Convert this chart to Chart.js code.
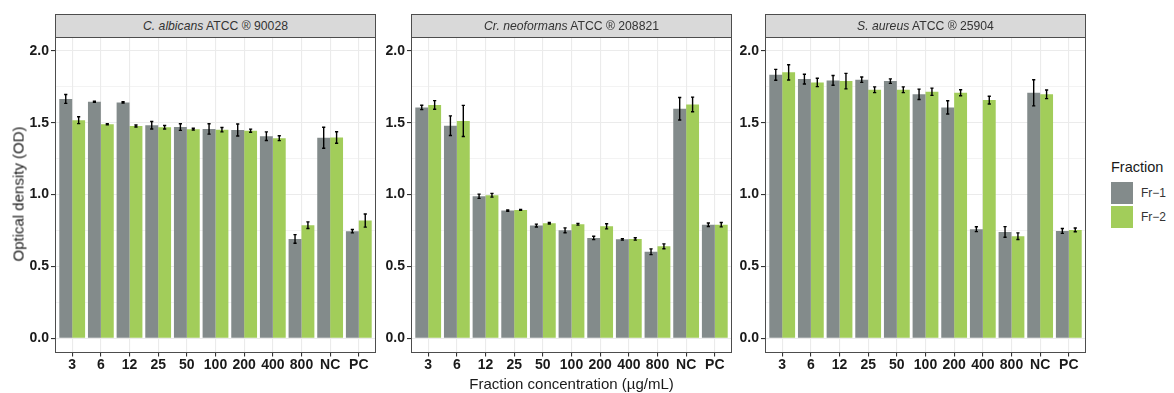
<!DOCTYPE html>
<html>
<head>
<meta charset="utf-8">
<script src="https://cdn.jsdelivr.net/npm/chart.js@4"></script>
<style>
  html, body { margin:0; padding:0; background:#fff; }
  body { width:1174px; height:393px; position:relative; overflow:hidden; font-family:"Liberation Sans", Arial, sans-serif; }
  .panel { position:absolute; top:17px; width:373px; height:376px; }
  .panel canvas { display:block; }
  .strip { position:absolute; top:14px; height:24px; width:321px; box-sizing:border-box; background:#D9D9D9; border:1px solid #4d4d4d;
           font-size:12.2px; color:#333; text-align:center; line-height:22px; white-space:nowrap; }
  .ytitle { position:absolute; left:18px; top:194px; transform:translate(-50%,-50%) rotate(-90deg); font-size:15px; color:#1a1a1a; white-space:nowrap; }
  .xtitle { position:absolute; left:571.5px; top:383px; transform:translate(-50%,-50%); font-size:15px; color:#1a1a1a; white-space:nowrap; }
  .ltitle { position:absolute; left:1111px; top:158px; font-size:14.5px; line-height:18px; color:#1a1a1a; }
  .lkey { position:absolute; left:1111px; width:22px; height:22px; }
  .llab { position:absolute; left:1141px; font-size:12px; line-height:14px; color:#333; }
</style>
</head>
<body>
<div class="panel" id="p1" style="left:5px"><canvas id="c1" width="373" height="376"></canvas></div>
<div class="panel" id="p2" style="left:361px"><canvas id="c2" width="373" height="376"></canvas></div>
<div class="panel" id="p3" style="left:715px"><canvas id="c3" width="373" height="376"></canvas></div>

<div class="strip" style="left:55px"><i>C. albicans</i> ATCC ® 90028</div>
<div class="strip" style="left:411px"><i>Cr. neoformans</i> ATCC ® 208821</div>
<div class="strip" style="left:765px"><i>S. aureus</i> ATCC ® 25904</div>

<div class="ytitle">Optical density (OD)</div>
<div class="xtitle">Fraction concentration (µg/mL)</div>

<div class="ltitle">Fraction</div>
<div class="lkey" style="top:182px;background:#838B8B"></div>
<div class="lkey" style="top:206px;background:#A2CD5A"></div>
<div class="llab" style="top:186px">Fr−1</div>
<div class="llab" style="top:210px">Fr−2</div>

<script>
// ---- data ----
const categories = ['3','6','12','25','50','100','200','400','800','NC','PC'];
const seriesNames = ['Fr-1','Fr-2'];
const seriesColors = ['#838B8B','#A2CD5A'];

const albicansFr1    = [1.665, 1.646, 1.641, 1.482, 1.469, 1.456, 1.449, 1.406, 0.691, 1.395, 0.745];
const albicansFr1Err = [0.031, 0.004, 0.004, 0.026, 0.023, 0.036, 0.042, 0.030, 0.030, 0.073, 0.012];
const albicansFr2    = [1.517, 1.489, 1.477, 1.468, 1.455, 1.451, 1.444, 1.392, 0.787, 1.397, 0.819];
const albicansFr2Err = [0.024, 0.004, 0.007, 0.012, 0.006, 0.015, 0.011, 0.017, 0.023, 0.040, 0.046];

const neoformansFr1    = [1.606, 1.479, 0.988, 0.888, 0.784, 0.751, 0.698, 0.688, 0.602, 1.597, 0.790];
const neoformansFr1Err = [0.015, 0.068, 0.015, 0.004, 0.010, 0.017, 0.012, 0.005, 0.020, 0.078, 0.012];
const neoformansFr2    = [1.623, 1.512, 0.995, 0.893, 0.800, 0.793, 0.779, 0.691, 0.640, 1.627, 0.790];
const neoformansFr2Err = [0.030, 0.108, 0.013, 0.003, 0.005, 0.006, 0.018, 0.008, 0.017, 0.051, 0.015];

const aureusFr1    = [1.833, 1.803, 1.794, 1.799, 1.789, 1.697, 1.606, 0.759, 0.740, 1.708, 0.747];
const aureusFr1Err = [0.038, 0.034, 0.034, 0.019, 0.016, 0.036, 0.046, 0.017, 0.037, 0.091, 0.017];
const aureusFr2    = [1.850, 1.780, 1.789, 1.729, 1.729, 1.715, 1.708, 1.657, 0.710, 1.697, 0.754];
const aureusFr2Err = [0.053, 0.029, 0.054, 0.020, 0.020, 0.025, 0.021, 0.027, 0.023, 0.030, 0.013];

const yMajorTicks = [0, 0.5, 1.0, 1.5, 2.0];
const yMinorTicks = [0.25, 0.75, 1.25, 1.75];
const yMin = -0.0998, yMax = 2.096;

// ---- plugins ----
const errorBarPlugin = {
  id: 'errorBars',
  afterDatasetsDraw(chart) {
    const ctx = chart.ctx, ys = chart.scales.y;
    ctx.save();
    ctx.strokeStyle = '#000';
    ctx.lineWidth = 1.4;
    chart.data.datasets.forEach((ds, di) => {
      const meta = chart.getDatasetMeta(di);
      meta.data.forEach((el, i) => {
        const v = ds.data[i].y, e = ds.errors[i];
        const x = el.x;
        const yt = ys.getPixelForValue(v + e), yb = ys.getPixelForValue(v - e);
        ctx.beginPath();
        ctx.moveTo(x, yt); ctx.lineTo(x, yb);
        ctx.moveTo(x - 1.6, yt); ctx.lineTo(x + 1.6, yt);
        ctx.moveTo(x - 1.6, yb); ctx.lineTo(x + 1.6, yb);
        ctx.stroke();
      });
    });
    ctx.restore();
  }
};
const framePlugin = {
  id: 'frame',
  afterDraw(chart) {
    const a = chart.chartArea, ctx = chart.ctx;
    ctx.save();
    ctx.strokeStyle = '#4d4d4d';
    ctx.lineWidth = 1;
    const l = Math.round(a.left) + 0.5, t = Math.round(a.top) + 0.5;
    const r = Math.round(a.right) - 0.5, b = Math.round(a.bottom) - 0.5;
    ctx.strokeRect(l, t, r - l, b - t);
    ctx.restore();
  }
};

function makePanel(canvasId, fr1, fr1Err, fr2, fr2Err) {
  const toXY = arr => arr.map((v, i) => ({ x: i + 1, y: v }));
  const isMajor = v => yMajorTicks.some(m => Math.abs(m - v) < 1e-9);
  new Chart(document.getElementById(canvasId), {
    type: 'bar',
    data: {
      datasets: [
        { label: seriesNames[0], data: toXY(fr1), errors: fr1Err, backgroundColor: seriesColors[0], borderWidth: 0,
          categoryPercentage: 0.9, barPercentage: 1.0 },
        { label: seriesNames[1], data: toXY(fr2), errors: fr2Err, backgroundColor: seriesColors[1], borderWidth: 0,
          categoryPercentage: 0.9, barPercentage: 1.0 }
      ]
    },
    options: {
      responsive: false,
      animation: false,
      devicePixelRatio: 1,
      layout: { padding: { top: 20, right: 2, bottom: 0, left: 0 } },
      plugins: { legend: { display: false }, tooltip: { enabled: false } },
      scales: {
        x: {
          type: 'linear',
          min: 0.4, max: 11.6,
          offset: false,
          afterBuildTicks: s => { s.ticks = categories.map((c, i) => ({ value: i + 1 })); },
          afterFit: s => { s.height = 40.4; s.paddingLeft = 0; s.paddingRight = 0; },
          ticks: {
            autoSkip: false, maxRotation: 0, minRotation: 0, padding: 0,
            color: '#1a1a1a',
            font: { family: '"Liberation Sans", Arial, sans-serif', size: 14, weight: 'bold' },
            callback: v => categories[Math.round(v) - 1]
          },
          grid: { offset: false, color: '#EBEBEB', lineWidth: 1.1, tickColor: '#333', tickLength: 4, drawTicks: true },
          border: { display: false }
        },
        y: {
          min: yMin, max: yMax,
          afterBuildTicks: s => {
            s.ticks = yMajorTicks.concat(yMinorTicks).sort((a, b) => a - b).map(v => ({ value: v }));
          },
          afterFit: s => { s.width = 50; s.paddingTop = 0; s.paddingBottom = 0; },
          ticks: {
            padding: 2,
            color: '#1a1a1a',
            font: { family: '"Liberation Sans", Arial, sans-serif', size: 14, weight: 'bold' },
            callback: v => isMajor(v) ? v.toFixed(1) : ''
          },
          grid: {
            color: '#EBEBEB',
            lineWidth: c => (c.tick && isMajor(c.tick.value)) ? 1.1 : 0.6,
            tickColor: c => (c.tick && isMajor(c.tick.value)) ? '#333' : 'rgba(0,0,0,0)',
            tickLength: 4
          },
          border: { display: false }
        }
      }
    },
    plugins: [errorBarPlugin, framePlugin]
  });
}

makePanel('c1', albicansFr1, albicansFr1Err, albicansFr2, albicansFr2Err);
makePanel('c2', neoformansFr1, neoformansFr1Err, neoformansFr2, neoformansFr2Err);
makePanel('c3', aureusFr1, aureusFr1Err, aureusFr2, aureusFr2Err);
</script>
</body>
</html>
